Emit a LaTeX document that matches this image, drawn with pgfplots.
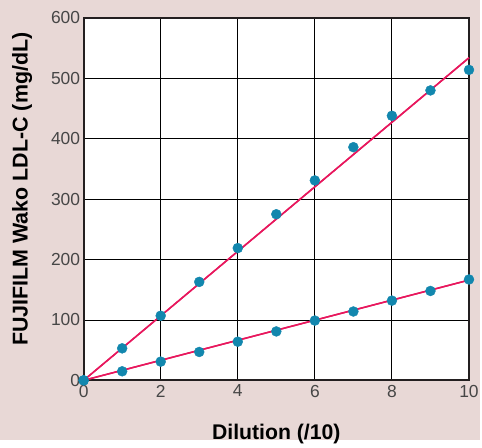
\documentclass[border=0pt]{standalone}
\usepackage{fontspec}
\setmainfont{Liberation Sans}
\usepackage{pgfplots}
\pgfplotsset{compat=1.18}
\usetikzlibrary{backgrounds,calc}
\definecolor{bg}{RGB}{232,216,214}
\definecolor{pt}{RGB}{18,135,174}
\definecolor{ln}{RGB}{232,23,93}
\definecolor{frame}{RGB}{35,31,32}
\definecolor{tick}{RGB}{70,70,70}
\begin{document}
\begin{tikzpicture}
\begin{axis}[name=ax,
  width=387pt, height=364pt, scale only axis,
  xmin=0, xmax=10, ymin=0, ymax=600,
  xtick={0,2,4,6,8,10}, ytick={0,100,200,300,400,500,600},
  grid=major, grid style={black, line width=0.9pt},
  major tick length=0pt,
  axis line style={frame, line width=2pt},
  axis background/.style={fill=white},
  /pgf/number format/assume math mode=true,
  ticklabel style={font=\fontsize{17.5}{17.5}\selectfont, text=tick},
  xticklabel style={yshift=-1pt},
  yticklabel style={xshift=0pt},
  xlabel={\textbf{Dilution (/10)}},
  ylabel={\textbf{FUJIFILM Wako LDL-C (mg/dL)}},
  xlabel style={font=\fontsize{21.3}{21.3}\selectfont, yshift=-20pt},
  ylabel style={font=\fontsize{21.5}{21.5}\selectfont, yshift=12pt, xshift=10pt},
  clip=false,
]
\addplot[ln, line width=1.5pt, no marks] coordinates {(0,0) (10,534)};
\addplot[ln, line width=1.5pt, no marks] coordinates {(0,0) (10,166)};
\addplot[pt, only marks, mark=*, mark size=5pt, mark options={draw=pt, fill=pt}] coordinates {
(0,0) (1,53) (2,107) (3,163) (4,219) (5,275) (6,331) (7,386) (8,438) (9,480) (10,514)};
\addplot[pt, only marks, mark=*, mark size=5pt, mark options={draw=pt, fill=pt}] coordinates {
(0,0) (1,15) (2,31) (3,47) (4,64) (5,81) (6,99) (7,114) (8,132) (9,148) (10,167)};
\addplot[ln, line width=1.5pt, no marks, forget plot] coordinates {(0,0) (10,534)};
\addplot[ln, line width=1.5pt, no marks, forget plot] coordinates {(0,0) (10,166)};
\end{axis}
\begin{scope}[on background layer]
\fill[bg] ($(ax.south west)+(-84pt,-60pt)$) rectangle ($(ax.north east)+(11pt,18pt)$);
\end{scope}
\end{tikzpicture}
\end{document}
